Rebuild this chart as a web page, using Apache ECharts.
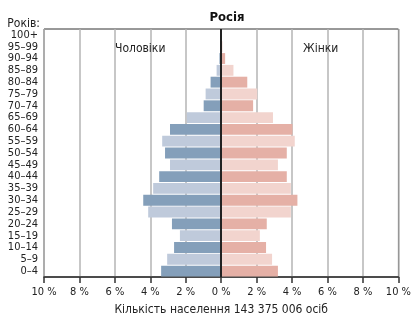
<!DOCTYPE html>
<html>
<head>
<meta charset="utf-8">
<script src="https://cdn.jsdelivr.net/npm/echarts@6/dist/echarts.min.js"></script>
<style>
    html, body { margin: 0; padding: 0; background: #fff; }
    #cn { width: 414px; height: 321px; }
</style>
</head>
<body>
<div id="cn"></div>
<script>
'use strict';

// вікові групи знизу вгору
const arrAge = ['0–4', '5–9', '10–14', '15–19', '20–24', '25–29', '30–34', '35–39', '40–44', '45–49',
    '50–54', '55–59', '60–64', '65–69', '70–74', '75–79', '80–84', '85–89', '90–94', '95–99', '100+'];

// % населення
const arrMale = [3.39, 3.05, 2.66, 2.33, 2.78, 4.12, 4.40, 3.84, 3.50, 2.89,
    3.17, 3.33, 2.89, 1.94, 0.99, 0.88, 0.60, 0.26, 0.10, 0.04, 0.02];
const arrFemale = [3.20, 2.87, 2.53, 2.18, 2.57, 3.93, 4.30, 3.93, 3.70, 3.20,
    3.70, 4.15, 4.02, 2.92, 1.80, 2.03, 1.47, 0.69, 0.22, 0.07, 0.02];

const strFont = '"Liberation Sans Narrow", "DejaVu Sans Condensed", sans-serif';
const strText = '#222';

const pyramidChart = echarts.init(document.getElementById('cn'));

const option = {
    animation: false,
    textStyle: {
        fontFamily: strFont
    },
    title: [{
            text: 'Росія',
            left: 222,
            textAlign: 'center',
            top: 6,
            textStyle: {
                fontFamily: strFont,
                fontSize: 13,
                fontWeight: 'bold',
                color: '#111'
            }
        },
        {
            text: 'Чоловіки',
            left: 110,
            top: 38,
            textStyle: {
                fontFamily: strFont,
                fontSize: 12,
                fontWeight: 'normal',
                color: strText
            }
        },
        {
            text: 'Жінки',
            left: 298,
            top: 38,
            textStyle: {
                fontFamily: strFont,
                fontSize: 12,
                fontWeight: 'normal',
                color: strText
            }
        }
    ],
    grid: {
        left: 44,
        right: 12,
        top: 29,
        bottom: 38,
        show: true,
        borderColor: '#333',
        borderWidth: 1
    },
    xAxis: {
        type: 'value',
        min: -10,
        max: 10,
        interval: 2,
        name: 'Кількість населення 143 375 006 осіб',
        nameLocation: 'middle',
        nameGap: 27,
        nameTextStyle: {
            fontFamily: strFont,
            fontSize: 12,
            color: strText
        },
        axisLine: {
            show: true,
            lineStyle: { color: '#333', width: 1.5 }
        },
        axisTick: {
            show: true,
            length: 6,
            lineStyle: { color: '#333', width: 1.5 }
        },
        axisLabel: {
            fontSize: 11,
            color: strText,
            margin: 10,
            formatter: (v) => `${Math.abs(v)} %`
        },
        splitLine: {
            show: true,
            lineStyle: { color: '#b4b4b4', width: 1.5 }
        }
    },
    yAxis: {
        type: 'category',
        data: arrAge,
        name: 'Років:',
        nameLocation: 'end',
        nameGap: -3,
        nameTextStyle: {
            fontFamily: strFont,
            fontSize: 12,
            color: strText,
            align: 'right',
            padding: [0, 4, 0, 0]
        },
        axisLine: { show: false, onZero: false },
        axisTick: { show: false },
        axisLabel: {
            interval: 0,
            fontSize: 11,
            color: strText,
            margin: 6
        }
    },
    series: [{
            name: 'Чоловіки',
            type: 'bar',
            barGap: '-100%',
            barCategoryGap: '8%',
            data: arrMale.map(v => -v),
            itemStyle: {
                color: (p) => (p.dataIndex % 2 === 0 ? '#849fba' : '#bfcadb')
            },
            markLine: {
                silent: true,
                symbol: 'none',
                label: { show: false },
                lineStyle: { color: '#222', width: 2, type: 'solid' },
                data: [{ xAxis: 0 }]
            }
        },
        {
            name: 'Жінки',
            type: 'bar',
            barCategoryGap: '8%',
            data: arrFemale,
            itemStyle: {
                color: (p) => (p.dataIndex % 2 === 0 ? '#e5b0a6' : '#f2d4ce')
            }
        }
    ]
};

pyramidChart.setOption(option);
</script>
</body>
</html>
